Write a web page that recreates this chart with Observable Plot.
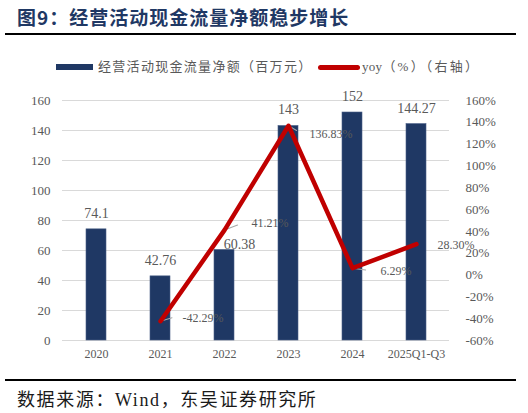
<!DOCTYPE html>
<html>
<head>
<meta charset="utf-8">
<script src="https://cdn.jsdelivr.net/npm/d3@7"></script>
<script src="https://cdn.jsdelivr.net/npm/@observablehq/plot@0.6"></script>
<style>
  html, body { margin: 0; padding: 0; background: #fff; }
  #wrap { position: relative; width: 528px; height: 413px; overflow: hidden; background: #fff; }
  .abs { position: absolute; white-space: nowrap; }
  #title { left: 17px; top: 3px; line-height: 26px; font: bold 19px "Noto Sans CJK SC", sans-serif; color: #1f3864; letter-spacing: 1px; }
  .rule { position: absolute; left: 5px; width: 511px; height: 2px; background: #000; }
  .legtext { font-size: 13px; line-height: 18px; color: #595959; letter-spacing: 1.3px; font-family: "Liberation Serif", "Noto Sans CJK SC", serif; }
  #footer { left: 17px; top: 389px; line-height: 22px; font-size: 18px; color: #1a1a1a; letter-spacing: 1.6px; font-family: "Liberation Serif", "Noto Sans CJK SC", serif; }
  #chart { position: absolute; left: 0; top: 80px; }
</style>
</head>
<body>
<div id="wrap">
  <div id="title" class="abs">图9：经营活动现金流量净额稳步增长</div>
  <div class="rule" style="top:33px"></div>
  <div class="abs" style="left:56px;top:64px;width:37px;height:6px;background:#1f3864"></div>
  <div class="abs legtext" style="left:98px;top:58px">经营活动现金流量净额（百万元）</div>
  <div class="abs" style="left:318px;top:65px;width:42px;height:4.5px;background:#c00000;border-radius:3px"></div>
  <div class="abs legtext" style="left:362px;top:58px;letter-spacing:0.3px">yoy<span style="letter-spacing:2.2px">（%）（右轴）</span></div>
  <div id="chart"></div>
  <div class="rule" style="top:379px"></div>
  <div id="footer" class="abs">数据来源：Wind，东吴证券研究所</div>
</div>
<script>
const categories = ["2020", "2021", "2022", "2023", "2024", "2025Q1-Q3"];
const values = [74.1, 42.76, 60.38, 143, 152, 144.27];
const valueLabels = ["74.1", "42.76", "60.38", "143", "152", "144.27"];
const yoyCategories = ["2021", "2022", "2023", "2024", "2025Q1-Q3"];
const yoyValues = [-42.29, 41.21, 136.83, 6.29, 28.30];
const yoyLabels = ["-42.29%", "41.21%", "136.83%", "6.29%", "28.30%"];
const leftTicks = [0, 20, 40, 60, 80, 100, 120, 140, 160];
const rightTicks = [-60, -40, -20, 0, 20, 40, 60, 80, 100, 120, 140, 160];

// label placement styling (pixel offsets)
const barLabelDx = [0, 0, 15, 0, 0, 0];
const barLabelDy = [-16, -16, -5, -16, -16, -16];
const yoyLabelDx = [22, 27, 21, 28, 21];
const yoyLabelDy = [-3, -7, 8, 3, 1];
const leaderLen = [18, 21, 14, 20, 0];
const leaderRot = [73, 69, 120, 98, 90];

const L = [-60, 160], Lrange = [0, 160];
const toLeft = v => (v - L[0]) * (Lrange[1] - Lrange[0]) / (L[1] - L[0]);
const fromLeft = v => v * (L[1] - L[0]) / (Lrange[1] - Lrange[0]) + L[0];

const bars = categories.map((c, i) => ({cat: c, value: values[i], label: valueLabels[i], i}));
const yoy = yoyCategories.map((c, i) => ({cat: c, yoy: yoyValues[i], y: toLeft(yoyValues[i]), label: yoyLabels[i], i}));

const leaderShape = { draw(ctx, l) { ctx.moveTo(0, 0); ctx.lineTo(0, -l); } };

const barLabelMarks = bars.map(d => Plot.text([d], {
  x: "cat", y: "value", text: "label", dx: barLabelDx[d.i], dy: barLabelDy[d.i],
  fill: "#595959", fontSize: 14
}));
const yoyLabelMarks = yoy.map(d => Plot.text([d], {
  x: "cat", y: "y", text: "label", dx: yoyLabelDx[d.i], dy: yoyLabelDy[d.i],
  textAnchor: "start", fill: "#595959", fontSize: 12
}));

const chart = Plot.plot({
  width: 528,
  height: 290,
  marginTop: 20,
  marginBottom: 30,
  marginLeft: 62,
  marginRight: 79,
  style: {fontFamily: "'Liberation Serif', 'Noto Sans CJK SC', serif", fontSize: "13px", color: "#595959", background: "transparent"},
  x: {domain: categories, paddingInner: 0.69, paddingOuter: 0.345},
  y: {domain: [0, 160]},
  marks: [
    Plot.gridY(leftTicks, {stroke: "#d9d9d9", strokeOpacity: 1, strokeWidth: 1}),
    Plot.barY(bars, {x: "cat", y: "value", fill: "#1f3864", stroke: "#4a5f86", strokeWidth: 0.6}),
    Plot.vector(yoy, {
      x: "cat", y: "y", length: d => leaderLen[d.i], rotate: d => leaderRot[d.i],
      anchor: "start", shape: leaderShape, stroke: "#a6a6a6", strokeWidth: 1
    }),
    Plot.line(yoy, {x: "cat", y: "y", stroke: "#c00000", strokeWidth: 4.5, strokeLinejoin: "round", strokeLinecap: "round"}),
    ...barLabelMarks,
    ...yoyLabelMarks,
    Plot.axisX({tickSize: 0, tickPadding: 9, label: null, fontSize: 12}),
    Plot.axisY({anchor: "left", ticks: leftTicks, tickSize: 0, tickPadding: 12, label: null, fontSize: 13}),
    Plot.axisY(rightTicks.map(toLeft), {
      anchor: "right", tickSize: 0, tickPadding: 16, label: null, fontSize: 13,
      tickFormat: v => Math.round(fromLeft(v)) + "%"
    })
  ]
});
document.getElementById("chart").appendChild(chart);
</script>
</body>
</html>
